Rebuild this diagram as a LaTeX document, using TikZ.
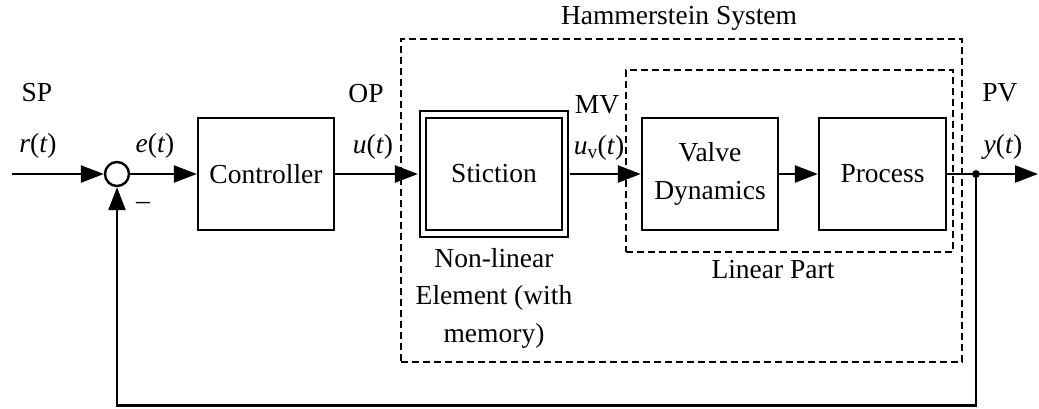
\documentclass[tikz,border=0pt]{standalone}
\usepackage{fontspec}
\setmainfont{Liberation Serif}
\usetikzlibrary{arrows.meta}
\begin{document}
\begin{tikzpicture}[x=1pt,y=-1pt,
  every node/.style={font=\fontsize{27.5}{37.5}\selectfont, inner sep=0pt},
  blk/.style={draw, line width=2.4pt, minimum width=#1, minimum height=112pt, align=center},
  sig/.style={line width=2.4pt},
  arr/.style={sig, -{Triangle[length=23pt,width=17pt]}},
  dbox/.style={draw, line width=2.4pt, dash pattern=on 7pt off 4pt},
  lbl/.style={align=center}
]
\useasboundingbox (0,0) rectangle (1039,408);
% dashed groups
\node[dbox, minimum width=561pt, minimum height=323pt] (ham) at (681.5,200.5) {};
\node[dbox, minimum width=327pt, minimum height=182pt] (lin) at (789.5,161) {};
% blocks
\node[draw, circle, line width=2.4pt, minimum size=24pt] (sum) at (117,174) {};
\node[blk=136pt] (ctrl) at (266,174) {Controller};
\node[blk=142pt, minimum height=119pt, double, double distance=4.5pt, line width=2.2pt] (stic) at (494,174) {Stiction};
\node[blk=136pt] (valve) at (710,174) {Valve\\Dynamics};
\node[blk=127pt] (proc) at (882.5,174) {Process};
\node[fill, circle, minimum size=8pt] (jn) at (976,174) {};
\coordinate (in) at (12,174);
\coordinate (out) at (1038,174);
\coordinate (fbc) at (976,405.5);
% connectors
\draw[arr] (in) -- (sum.west);
\draw[arr] (sum.east) -- (ctrl.west);
\draw[arr, shorten >=4pt] (ctrl.east) -- (stic.west);
\draw[arr, shorten <=4pt] (stic.east) -- (valve.west);
\draw[arr] (valve.east) -- (proc.west);
\draw[sig] (proc.east) -- (jn.center);
\draw[arr] (jn.center) -- (out);
\draw[arr] (jn.center) -- (fbc) -| (sum.south);
% labels
\node[lbl] (sp) at (37,93) {SP};
\node[lbl] (rt) at (38,146) {\textit{r}(\textit{t})};
\node[lbl] (et) at (155,146) {\textit{e}(\textit{t})};
\node[lbl] (minus) at (143,206) {–};
\node[lbl] (op) at (366,94) {OP};
\node[lbl] (ut) at (373,147) {\textit{u}(\textit{t})};
\node[lbl] (mv) at (597,105) {MV};
\node[lbl] (uvt) at (599,148) {\textit{u}\textsubscript{v}(\textit{t})};
\node[lbl] (pv) at (1000,93) {PV};
\node[lbl] (yt) at (1003,147) {\textit{y}(\textit{t})};
\node[lbl] (title) at (679,18) {Hammerstein System};
\node[lbl] (linlbl) at (773,270) {Linear Part};
\node[lbl] (nl) at (494,298) {Non-linear\\Element (with\\memory)};
\end{tikzpicture}
\end{document}
